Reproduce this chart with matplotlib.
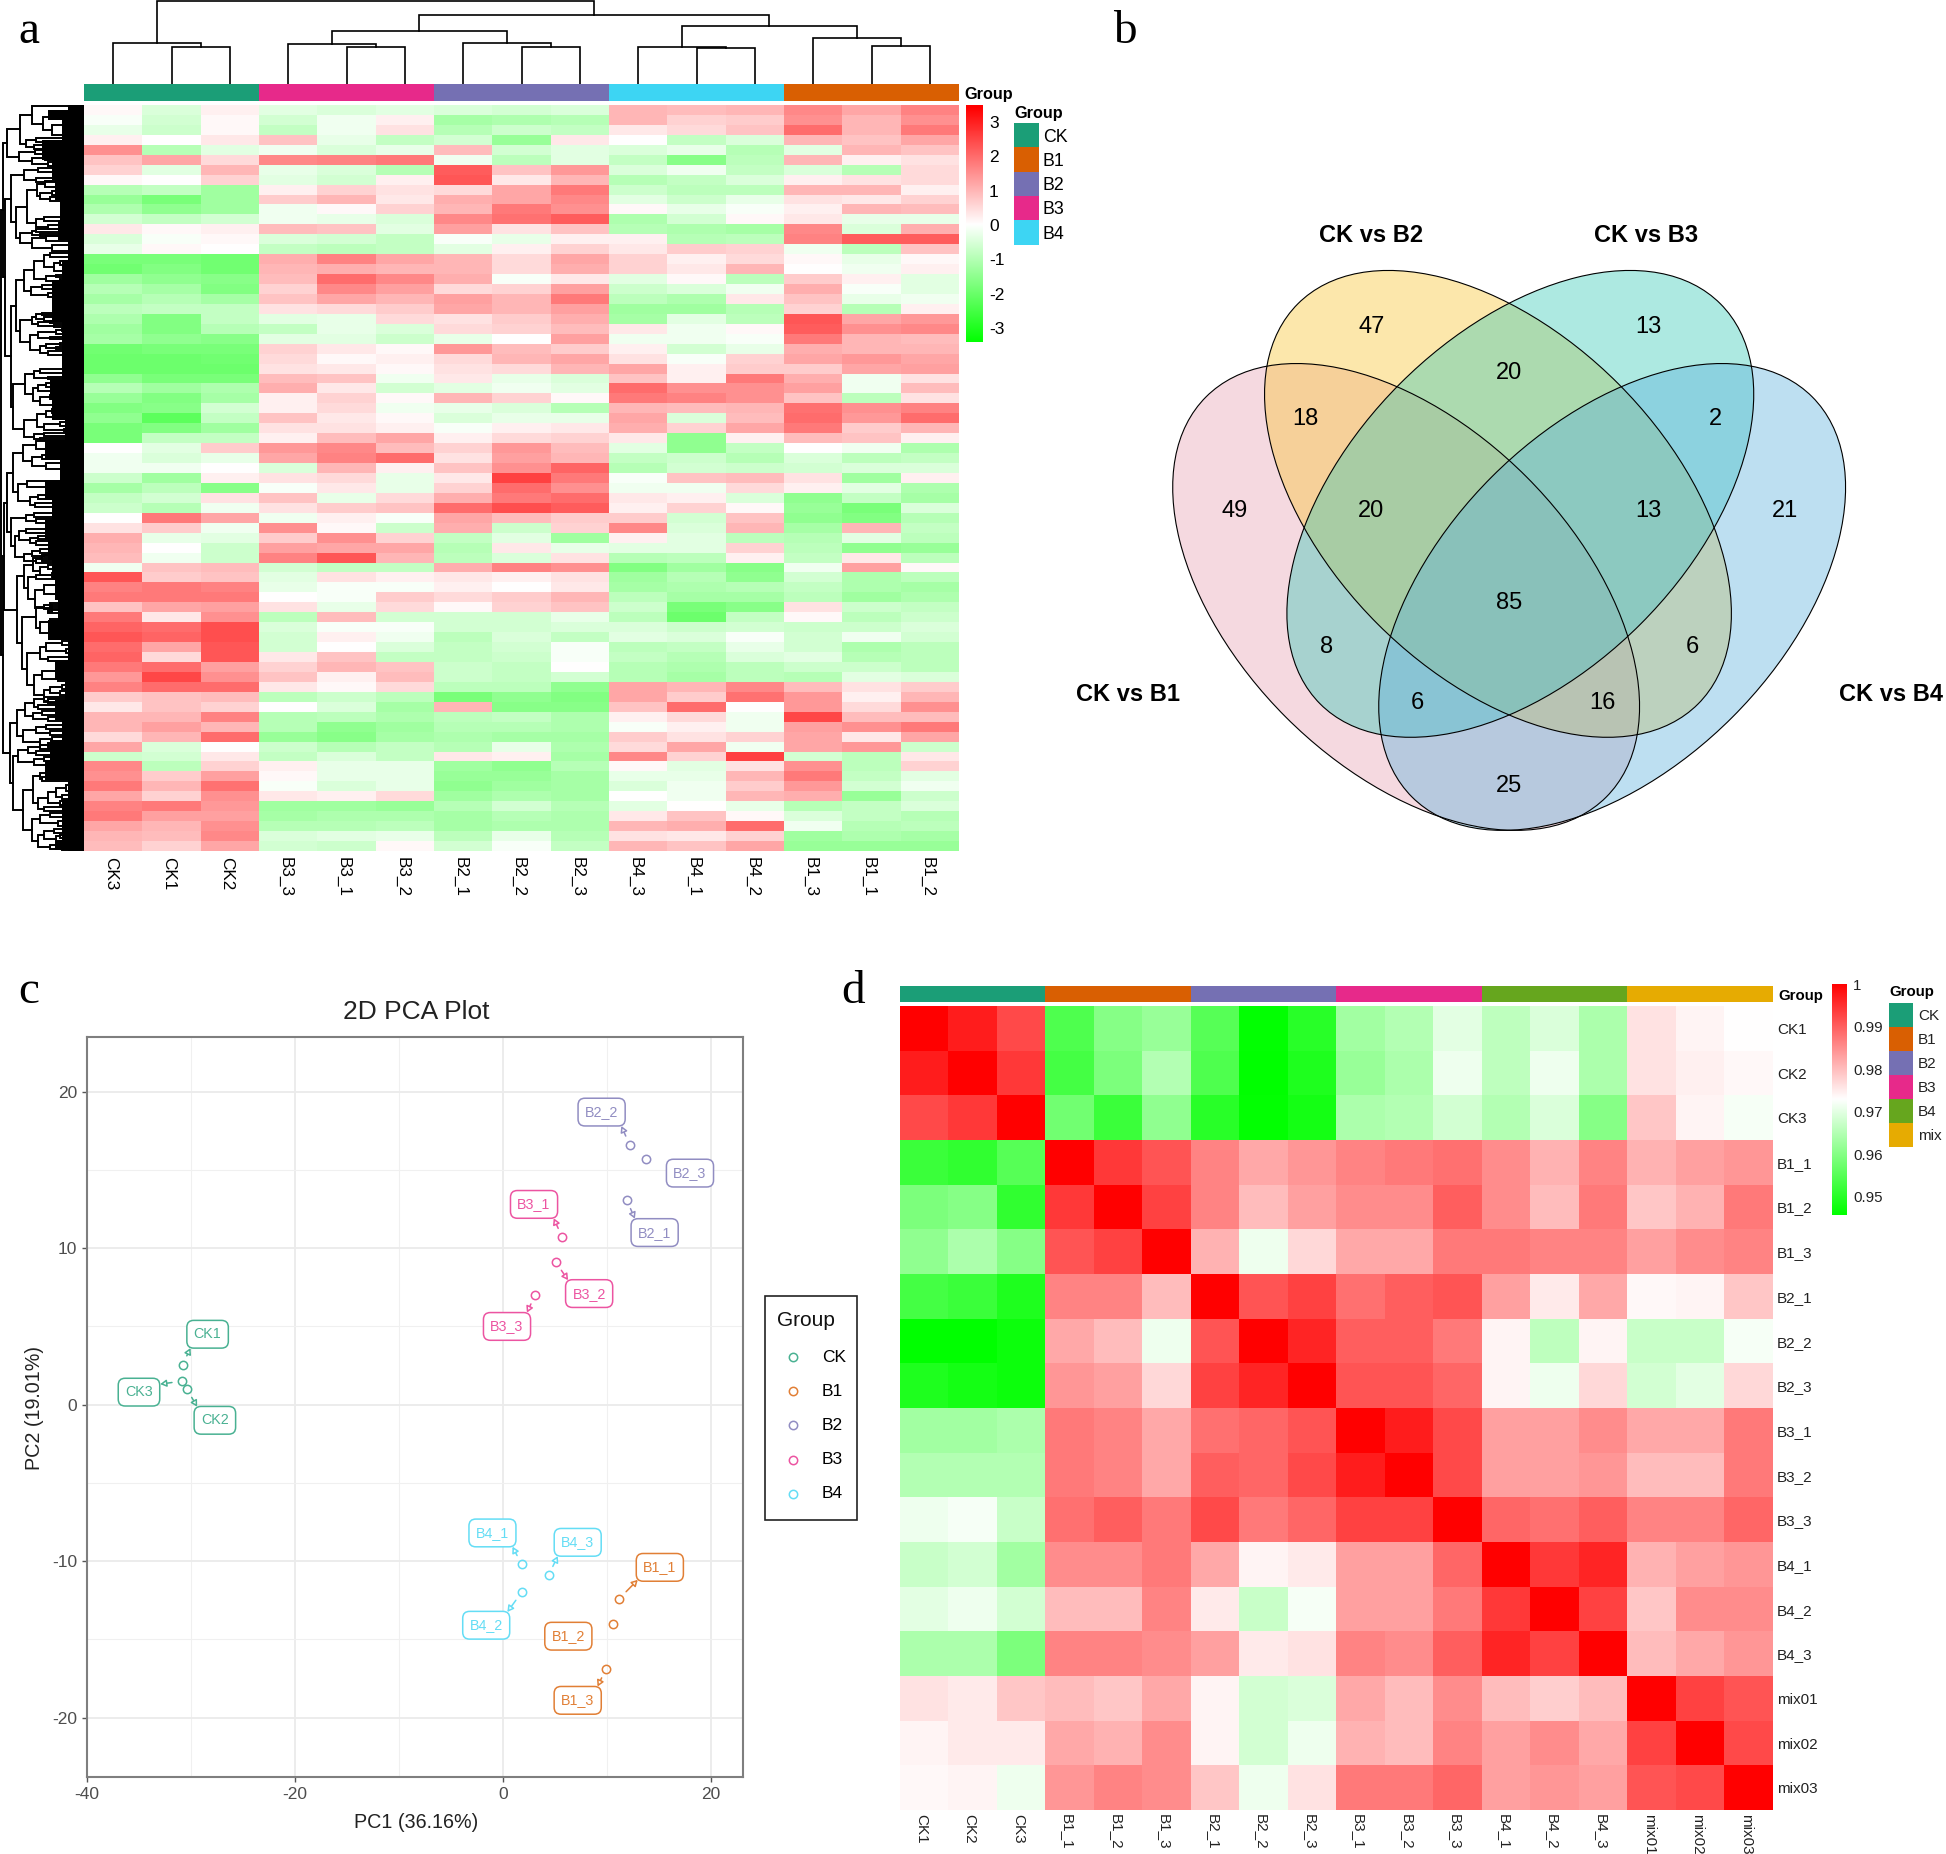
import numpy as np
import matplotlib
matplotlib.use("Agg")
import matplotlib.pyplot as plt
from matplotlib.colors import LinearSegmentedColormap, ListedColormap
from matplotlib.patches import Ellipse, Rectangle

plt.rcParams['font.family'] = ['Liberation Sans', 'DejaVu Sans']

W, H = 1946, 1854

# panel a
col_names = ['CK3', 'CK1', 'CK2', 'B3_3', 'B3_1', 'B3_2', 'B2_1', 'B2_2', 'B2_3',
             'B4_3', 'B4_1', 'B4_2', 'B1_3', 'B1_1', 'B1_2']
col_groups = [0, 0, 0, 3, 3, 3, 2, 2, 2, 4, 4, 4, 1, 1, 1]
group_names_a = ['CK', 'B1', 'B2', 'B3', 'B4']
colors_a = ['#1B9E77', '#D95F02', '#7570B3', '#E7298A', '#3DD5F3']
ticks_a = [3, 2, 1, 0, -1, -2, -3]

expr_top = [
    [.1, -.5, .2, -.4, -.5, -.4, -.5, -.6, -.5, 1.0, .9, 1.0, 1.6, 1.2, 1.7],
    [-.1, -.6, .1, -.6, -.2, .2, -1.2, -1.1, -1.0, 1.0, .6, .7, 1.5, 1.0, 1.5],
    [-.3, -.7, .1, -.8, -.2, .4, -1.0, -.7, -.8, .3, .5, .8, 2.0, 1.0, 1.8],
    [.2, 0, .3, .8, -.3, -.8, -.6, -1.4, .3, 0, -.8, -.5, 1.0, .8, 1.2],
    [1.5, -1.0, -.4, -.2, -.5, -.3, .9, -.6, -.4, -.5, -.3, -1.0, -.4, 1.0, .8],
    [.8, 1.2, .5, 1.6, 1.7, 1.8, -.2, -.9, -.4, -.8, -1.6, -.9, 1.0, .2, .4],
    [.6, -.4, 1.0, -.3, -.5, -1.0, 2.2, .8, 1.4, -.5, -.2, -.8, -.5, -1.0, .5],
    [.1, 0, .6, -.4, -.6, .2, 2.3, .3, 1.0, -1.0, -.8, -.5, .2, .4, .5],
    [-1.0, -.8, -1.3, .2, .6, .4, .5, 1.2, 1.8, -.7, -.9, -.9, 1.0, 1.0, .2],
    [-1.4, -1.8, -1.3, .7, 1.0, .3, 1.1, 1.2, 1.6, -.4, -.7, -.3, .4, .3, .6],
    [-1.1, -1.5, -1.3, -.2, .1, .6, 1.0, 1.8, 1.5, .1, -.3, -.1, .2, 1.0, .9],
    [-.6, -.8, -.6, -.2, -.3, -.5, 1.6, 1.9, 2.2, -1.1, -.6, .1, .3, -.3, -.3],
    [.3, .1, .2, .9, .8, -.4, 1.3, .4, .8, -1.0, -1.1, -1.2, 1.6, -.5, 1.1],
    [-.5, -.1, .1, -.5, -.6, -.8, -.1, -.3, .2, .2, -1.0, -.9, 1.7, 2.2, 2.2],
    [-.3, .1, 0, -.8, -.9, -.8, -.4, .2, .6, .3, .7, .6, -.2, -.9, .8],
]
expr_upper = [
    [-1.8, -1.8, -1.9, 1.1, 1.7, 1.2, 1.0, .5, 1.2, .6, .2, .5, .1, -.3, .1],
    [-1.9, -1.7, -1.9, 1.0, 1.1, 1.0, 1.0, .5, 1.1, .6, .3, 1.0, 0, -.2, .2],
    [-1.3, -1.5, -1.6, .9, 2.0, 1.6, 1.1, -.1, .3, -.4, .1, -.9, .7, .2, -.4],
    [-1.0, -1.2, -1.7, .6, 1.6, 1.3, .5, .6, 1.3, -.7, -.5, -.2, 1.1, -.1, -.4],
    [-1.2, -1.0, -1.2, .8, 1.2, 1.0, 1.3, 1.0, 1.8, -.9, -1.1, .3, .8, -.3, -.2],
    [-.9, -.8, -.8, .4, .5, .7, 1.2, 1.0, 1.3, -1.3, -1.3, -1.0, .6, -1.0, .2],
    [-1.1, -1.7, -.8, -.4, -.3, .5, .4, .7, 1.1, -1.2, -.4, -.9, 2.3, 1.2, 1.4],
    [-1.3, -1.7, -1.0, -.8, -.3, -.5, .5, .6, .9, .3, -.2, .1, 2.2, 1.5, 1.6],
    [-1.2, -1.5, -1.6, -.4, -.4, -.7, -.3, 0, 1.3, -.2, -.2, -.1, 1.8, 1.0, .9],
    [-1.9, -1.8, -1.8, .6, .3, .1, 1.4, .9, .7, .2, -.6, -.3, 1.1, 1.0, 1.0],
    [-2.0, -2.0, -1.9, .5, .1, .2, .5, 1.0, 1.2, .4, -.1, .6, 1.2, 1.4, 1.2],
    [-2.0, -2.0, -2.0, .4, .3, .1, .4, .5, 1.0, 1.2, .2, .7, .7, 1.2, 1.3],
    [-1.5, -1.8, -1.8, .9, .8, -.2, .3, -.3, -.5, .8, .2, 1.8, 1.1, -.2, .4],
    [-1.0, -1.3, -1.1, 1.1, .3, -.6, -.4, -.2, -.4, 2.0, 1.5, 1.5, 1.3, -.2, .9],
    [-1.4, -1.7, -1.2, .2, .6, .1, 1.0, .6, .1, 1.8, 1.7, 1.5, .8, -.9, .4],
]
expr_mid = [
    [-1.7, -1.6, -.6, .2, .5, -.2, -.3, -.5, -1.0, 1.0, .9, 1.0, 1.9, 1.5, 1.7],
    [-1.5, -2.2, -.8, .8, .3, .1, -.5, -.3, -.3, 1.2, -.5, .9, 2.0, 1.4, 2.0],
    [-1.8, -1.7, -1.3, .4, .4, .2, -.1, .2, .3, 1.1, .6, 1.2, 1.8, .7, 1.0],
    [-1.8, -.8, -.8, .2, .9, 1.2, .2, .5, .6, .3, -1.5, .2, .9, .8, .2],
    [0, -.4, .7, 1.4, 1.6, .9, .6, 1.4, .9, -.4, -1.5, -.8, 0, -.2, -1.1],
    [-.2, -.5, -.3, 1.2, 1.7, 2.0, .4, 1.3, 1.0, -.8, -.7, -1.0, -.5, -.9, -.8],
    [-.2, -.2, 0, -.5, 1.0, .2, .8, 1.5, 2.1, -1.0, -.6, -.7, -.6, -.5, -.5],
    [-.7, -1.3, .2, .4, .5, -.3, .3, 2.6, 1.8, -.1, .8, .9, .4, -1.3, .2],
    [-1.2, -.9, -1.6, -.1, .3, -.3, .6, 2.0, 1.5, -.2, -.2, .5, .2, -.4, -1.1],
    [-.8, -.6, .4, .8, -.3, .5, 1.1, 1.8, 2.0, .3, .2, -.5, -1.5, -.8, -1.2],
    [-.7, -1.0, -.2, .4, .7, .8, 2.0, 2.4, 2.2, .2, .6, .1, -1.4, -1.8, -.5],
    [0, 1.8, 1.2, -.2, .2, -.1, 1.2, .9, .7, .7, -.6, .8, -1.5, -1.7, -1.0],
    [.4, .7, -.2, 1.5, .1, -.7, 1.1, -.7, .6, 1.6, -.5, 1.0, -1.2, 1.0, -.8],
    [1.1, -.3, -.4, .7, 1.5, .6, -.8, -.4, -1.3, .2, -.4, -.9, -1.0, -.4, -.9],
    [1.0, 0, -.7, 1.3, 1.2, 1.2, -1.0, .3, -.3, -.4, -.4, .6, -.9, -1.5, -1.4],
    [.9, -.2, -.7, 1.7, 2.3, 1.0, -.9, -.5, .4, -1.0, -.9, .2, -.8, .3, -.9],
]
expr_lower = [
    [-.2, .8, .9, -.6, -.8, -.8, 1.1, 1.7, 1.5, -1.7, -1.3, -1.6, -.2, 1.3, .1],
    [2.3, .7, .8, -.4, .4, .2, .3, .2, .4, -1.3, -1.0, -1.5, -.6, -1.1, -.9],
    [1.7, 1.8, 1.7, -.3, -.1, -.1, .2, 0, .3, -1.2, -1.1, -1.0, -.8, -1.1, -1.2],
    [1.8, 1.8, 1.8, 0, -.1, .7, .5, .7, 1.0, -.9, -1.2, -1.2, -.9, -1.3, -1.1],
    [.8, 1.2, 1.3, .4, -.3, .5, .1, .6, .8, -.7, -1.8, -1.6, .4, -.7, -.8],
    [1.8, .3, 1.5, -.9, .9, -.6, -.6, -.6, -.3, -.9, -2.0, -.8, .1, -.9, -.7],
    [2.1, 2.0, 2.4, -.5, -.1, -.1, -.6, -.6, -.5, -.5, -.7, -.6, -.7, -.7, -.5],
    [2.3, 2.1, 2.4, -.6, .2, -.2, -.9, -.5, -.8, -.4, -.5, -.1, -.6, -.2, -.6],
    [2.0, 1.2, 2.3, -.6, 0, -.5, -.8, -.6, -.1, -.9, -.8, -.3, -.6, -1.1, -.9],
    [2.1, .5, 2.3, .3, .8, -.8, -.8, -.7, -.1, -.8, -1.0, -.5, -.4, -1.0, -.9],
    [1.8, 2.0, 1.3, .6, 1.0, .8, -.7, -.8, 0, -1.0, -1.1, -.9, -.7, -.7, -.9],
    [1.4, 2.5, 1.5, .8, .2, .9, -.7, -.8, -.6, -1.0, -1.2, -.9, -1.0, -.4, -.5],
    [1.7, 2.0, 2.0, .3, .1, .5, -.9, -.9, -1.5, 1.2, 1.0, 1.6, .9, .4, .7],
    [.7, .8, .9, -.9, -.7, -.9, -1.8, -1.5, -1.7, 1.2, .7, 1.9, 1.4, .2, 1.0],
    [.3, .8, .6, 0, -.5, -1.2, 1.0, -1.6, -1.6, .8, 2.0, 0, 1.4, .5, 1.5],
]
expr_bottom = [
    [1.0, 1.0, 1.7, -1.0, -.9, -1.1, -.9, -.8, -1.1, .2, .5, -.2, 2.5, .9, .9],
    [1.0, 1.3, 1.0, -1.0, -1.5, -1.3, -1.0, -1.0, -1.1, -.1, .2, -.2, 1.3, 1.5, 1.8],
    [.5, 1.0, 2.0, -1.4, -1.6, -1.2, -1.1, -1.2, -1.2, .7, .4, .6, 1.2, .3, 1.2],
    [1.2, -.5, 0, -.7, -1.0, -.8, -1.0, -.3, -1.1, .5, 1.2, -.2, 1.2, 1.4, -.7],
    [-.7, -.6, .3, -.8, -.5, -.8, .3, .2, -1.2, 1.6, .6, 2.6, -.6, -.9, .3],
    [1.6, -.9, .6, .2, -.3, -.3, -1.3, -1.5, -1.0, .1, -.4, .4, 1.5, -.9, .6],
    [1.5, .7, 1.3, .1, -.3, -.3, -1.4, -1.4, -1.2, -.3, -.3, 1.0, 1.8, -.8, -.4],
    [1.8, 1.0, 1.9, -.1, -.5, -.3, -1.5, -1.3, -1.2, -.5, -.2, .7, 1.4, -.6, -.2],
    [1.2, .6, 1.5, .3, .2, .5, -1.3, -1.1, -1.2, 0, -.2, 1.0, 1.1, -1.4, -.7],
    [1.7, 1.8, 1.4, -1.3, -1.3, -1.4, -1.0, -.6, -1.0, -.4, 0, -.3, -1.0, -.8, -.5],
    [1.8, 1.3, 1.3, -1.2, -1.1, -1.1, -1.2, -1.0, -1.1, .3, .8, .1, -.5, -.8, -1.0],
    [1.2, 1.0, 1.5, -1.0, -1.0, -.9, -1.2, -1.1, -1.1, 1.0, 1.1, 2.0, -.2, -1.0, -.9],
    [1.0, .9, 1.6, -.5, -.4, -.3, -.9, -.3, -1.0, .4, .3, .6, -1.3, -1.1, -1.2],
    [.9, .6, 1.2, -.6, -.7, .1, -.6, -.1, -.8, 1.0, .8, 1.2, -1.4, -1.4, -1.4],
]

# column tree: (height, left, right), leaves are column numbers
col_tree = (83, (41, 0, (37, 1, 2)),
            (69, (53, (40, 3, (37, 4, 5)), (41, 6, (37, 7, 8))),
             (58, (37, 9, (36, 10, 11)), (46, 12, (38, 13, 14)))))

# row tree: (depth, upper, lower), leaves are row offsets in the heatmap
row_u = (7, (20, (32, 1, (43, 12, (52, 20, 30))), (26, (36, 33, 37), (34, 40, 44))),
         (19, (35, 45, 49), (32, (45, 51, 55), (48, 57, 61))))
row_v = (16, (27, (37, (45, 76, 82), (40, (52, 86, 90), (50, 92, 96))),
              (36, (44, 112, 116), (48, 120, 124))),
         (20, (32, (36, 124, 127), (40, 129, 131)), (32, (46, 131, 136), (52, 140, 146))))
row_v = (11, (24, (38, 63, 67), (36, 73, 77)), row_v)
row_qa = (16, (24, (34, (44, (50, 148, 152), (54, (60, 156, 160), (64, 164, 168))),
                    (46, (56, 170, 172), (60, 174, 178))),
               (31, (42, 180, 184), (48, 188, 192))),
          (20, (32, (36, (42, 208, 210), (44, 212, 216)), (38, (50, 216, 218), (54, 220, 222))),
           (30, (38, (56, (62, 224, 226), (68, 228, 230)), (50, 232, 234)),
            (40, (46, (60, 238, 240), (56, 242, 244)), (48, 246, 250)))))
row_qb = (13, (25, (34, (40, 264, 268), (48, 272, 274)),
               (33, (38, (46, 278, 282), (52, 284, 288)), (40, (50, 290, 294), (54, 298, 302)))),
          (24, (37, (46, (52, 304, 308), (58, 310, 314)),
                (44, (60, (66, 316, 318), (70, 320, 322)), (64, 324, 326))),
           (34, (44, 328, 331), (40, 333, 335))))
row_x = (7, (13, (23, (36, 336, 344), (32, (42, 350, 354), (46, 358, 364))),
             (18, (27, 376, 382), (30, (38, 390, 394), (35, 398, 402)))),
         (11, (26, (34, 408, 412), (36, 414, 418)),
          (15, (19, (26, 424, 428), (30, (38, 431, 434), (36, 436, 440))),
           (24, (32, (40, 444, 448), (44, 450, 452)), (36, 454, 458)))))
row_z = (17, (24, (33, (42, 450, 456), (40, (48, 460, 464), (52, 468, 472))),
              (28, (36, 470, 474), (35, (44, (58, 478, 482), (56, 486, 492)),
                                    (52, (50, 498, 502), (48, 505, 508))))),
         (22, (36, (44, 500, 504), (40, (50, (60, 512, 516), (70, 518, 524)), (52, 526, 530))),
          (27, (40, (46, (62, 536, 540), (66, 544, 548)), (48, 552, 556)),
           (34, (42, (56, 564, 568), (58, 572, 576)),
            (44, (50, (62, 580, 584), (60, 586, 590)), (48, 594, 598))))))
row_y1 = (17, (25, (34, (44, 592, 597), (38, 600, 604)), (33, (42, 606, 610), (48, 612, 616))),
          (23, (36, (46, 620, 624), (50, 626, 630)), (40, (52, 632, 636), (48, 638, 642))))
row_y2 = (13, (18, (28, (40, 640, 644), (36, 646, 650)), (34, (44, 652, 656), (48, 658, 662))),
          (23, (33, (40, (46, 666, 670), (42, 672, 676)),
                (38, (48, (56, (66, (76, 678, 682), (74, 684, 688)), (62, 690, 694)), (60, 696, 700)),
                 (44, 702, 706))),
           (32, (40, (50, 708, 712), (58, (64, 714, 718), (66, 720, 722))),
            (38, (44, (54, 724, 728), (56, (60, 730, 733), (64, 735, 738))),
             (50, (58, 739, 742), (62, 743, 745))))))
row_tree = (1, (3, row_u, (4.5, row_v, (11, row_qa, row_qb))),
            (2.5, (3.5, row_x, row_z), (10, row_y1, row_y2)))

# where the solid black leaves begin, every 20 rows
black_edge = [48, 62, 42, 52, 55, 60, 58, 70, 62, 52, 52, 62, 62, 62, 50, 52, 65, 45, 60,
              45, 52, 45, 48, 52, 55, 58, 48, 72, 55, 65, 55, 62, 50, 45, 70, 62, 62, 55]

# panel b
venn_names = ['CK vs B2', 'CK vs B3', 'CK vs B1', 'CK vs B4']
venn_counts = [49, 47, 13, 21, 18, 20, 2, 20, 13, 8, 6, 85, 6, 16, 25]

# panel c
pca_groups = ['CK', 'B1', 'B2', 'B3', 'B4']
pca_colors = ['#1B9E77', '#D95F02', '#7570B3', '#E7298A', '#3DD5F3']
pca_names = ['CK1', 'CK2', 'CK3', 'B1_1', 'B1_2', 'B1_3', 'B2_1', 'B2_2', 'B2_3',
             'B3_1', 'B3_2', 'B3_3', 'B4_1', 'B4_2', 'B4_3']
pca_x = [-30.8, -30.4, -30.9, 11.2, 10.6, 9.9, 11.9, 12.2, 13.8, 5.7, 5.1, 3.1, 1.8, 1.8, 4.4]
pca_y = [2.56, 1.0, 1.5, -12.4, -14.0, -16.9, 13.1, 16.6, 15.7, 10.7, 9.1, 7.0, -10.2, -12.0, -10.9]
pca_lab_x = [-28.4, -27.7, -35.0, 15.1, 6.3, 7.2, 14.6, 9.5, 18.0, 3.0, 8.3, 0.4, -1.0, -1.6, 7.2]
pca_lab_y = [4.5, -1.0, 0.8, -10.4, -14.8, -18.9, 11.0, 18.7, 14.8, 12.8, 7.1, 5.0, -8.2, -14.1, -8.8]
pca_arrow = [1, 1, 1, 1, 0, 1, 1, 1, 0, 1, 1, 1, 1, 1, 1]

# panel d
corr_names = ['CK1', 'CK2', 'CK3', 'B1_1', 'B1_2', 'B1_3', 'B2_1', 'B2_2', 'B2_3',
              'B3_1', 'B3_2', 'B3_3', 'B4_1', 'B4_2', 'B4_3', 'mix01', 'mix02', 'mix03']
corr_groups = [0, 0, 0, 1, 1, 1, 2, 2, 2, 3, 3, 3, 4, 4, 4, 5, 5, 5]
group_names_d = ['CK', 'B1', 'B2', 'B3', 'B4', 'mix']
colors_d = ['#1B9E77', '#D95F02', '#7570B3', '#E7298A', '#66A61E', '#E6AB02']
corr_ticks = [1, 0.99, 0.98, 0.97, 0.96, 0.95]
corr = [
    [1, .997, .992, .954, .960, .962, .955, .946, .950, .963, .965, .970, .966, .969, .964, .976, .974, .973],
    [.997, 1, .994, .953, .959, .965, .954, .9458, .949, .962, .964, .971, .966, .971, .964, .976, .9745, .9735],
    [.992, .994, 1, .958, .952, .961, .950, .946, .948, .964, .965, .968, .965, .969, .960, .979, .974, .972],
    [.952, .951, .955, 1, .994, .991, .986, .982, .984, .986, .987, .988, .985, .981, .986, .981, .983, .984],
    [.959, .960, .951, .994, 1, .993, .986, .980, .983, .985, .985, .990, .985, .980, .987, .979, .981, .987],
    [.961, .964, .960, .991, .993, 1, .981, .971, .977, .982, .982, .987, .987, .986, .986, .983, .985, .986],
    [.953, .952, .949, .986, .986, .980, 1, .991, .993, .988, .990, .991, .983, .975, .982, .9735, .974, .979],
    [.9458, .9458, .947, .982, .980, .971, .991, 1, .996, .990, .990, .987, .974, .966, .974, .967, .967, .972],
    [.949, .948, .947, .984, .983, .977, .993, .996, 1, .991, .991, .989, .974, .971, .977, .968, .970, .977],
    [.963, .963, .964, .987, .986, .982, .988, .989, .991, 1, .997, .992, .983, .983, .985, .982, .982, .987],
    [.965, .965, .965, .987, .986, .982, .990, .989, .992, .997, 1, .992, .983, .983, .984, .980, .980, .987],
    [.971, .972, .967, .988, .990, .987, .992, .987, .989, .993, .993, 1, .989, .988, .990, .986, .986, .989],
    [.967, .968, .963, .985, .985, .987, .982, .974, .975, .983, .983, .989, 1, .994, .996, .981, .983, .984],
    [.970, .971, .968, .980, .980, .986, .975, .967, .972, .983, .983, .987, .994, 1, .993, .979, .985, .985],
    [.964, .964, .959, .986, .986, .985, .983, .975, .976, .986, .985, .990, .996, .993, 1, .980, .982, .984],
    [.976, .975, .979, .980, .979, .982, .974, .968, .969, .982, .980, .985, .980, .978, .980, 1, .993, .991],
    [.974, .975, .975, .982, .981, .985, .974, .968, .971, .981, .980, .986, .983, .985, .982, .993, 1, .992],
    [.9735, .974, .971, .984, .986, .985, .979, .971, .976, .987, .987, .989, .983, .984, .983, .991, .992, 1],
]

gwr = LinearSegmentedColormap.from_list('gwr', ['#00FF00', '#FFFFFF', '#FF0000'], N=256)

fig = plt.figure(figsize=(W / 100, H / 100), dpi=100, facecolor='white')


def px_axes(x0, y0, x1, y1):
    return fig.add_axes([x0 / W, 1 - y1 / H, (x1 - x0) / W, (y1 - y0) / H])


def bare(ax):
    ax.set_xticks([])
    ax.set_yticks([])
    for s in ax.spines.values():
        s.set_visible(False)


def draw_tree(ax, node, vertical, lw):
    # returns (position, height) of the node
    if not isinstance(node, tuple):
        return node, None
    h, a, b = node
    pa, ha = draw_tree(ax, a, vertical, lw)
    pb, hb = draw_tree(ax, b, vertical, lw)
    if vertical:
        ax.plot([pa, pa, pb, pb], [0 if ha is None else ha, h, h, 0 if hb is None else hb],
                color='black', lw=lw, solid_joinstyle='miter')
    else:
        ax.plot([84 if ha is None else ha, h, h, 84 if hb is None else hb], [pa, pa, pb, pb],
                color='black', lw=lw, solid_joinstyle='miter')
    return (pa + pb) / 2, h


# overlay with pixel coordinates for the loose text and legends
over = px_axes(0, 0, W, H)
over.set_xlim(0, W)
over.set_ylim(H, 0)
over.axis('off')
over.set_zorder(5)
over.patch.set_alpha(0)

for lab, x, y in [('a', 18, 43), ('b', 1113, 43), ('c', 18, 1003), ('d', 841, 1003)]:
    over.text(x, y, lab, family='Liberation Serif', fontsize=34, va='baseline', ha='left')

# ---- a: heatmap
expr = np.array(expr_top + expr_upper + expr_mid + expr_lower + expr_bottom)
ax = px_axes(84, 105, 959, 851)
ax.imshow(expr, cmap=gwr, vmin=-3.47, vmax=3.47, aspect='auto', interpolation='nearest')
bare(ax)
for i, name in enumerate(col_names):
    over.text(81 + 58.33 * (i + .5), 857, name, rotation=-90, ha='center', va='top', fontsize=12.3)

ax = px_axes(84, 84, 959, 101)
ax.imshow([col_groups], cmap=ListedColormap(colors_a), vmin=0, vmax=4, aspect='auto',
          interpolation='nearest')
bare(ax)

ax = px_axes(84, 0, 959, 84)
draw_tree(ax, col_tree, True, 1.2)
ax.set_xlim(-.5, 14.5)
ax.set_ylim(0, 84)
bare(ax)
ax.patch.set_alpha(0)

ax = px_axes(0, 105, 84, 851)
draw_tree(ax, row_tree, False, 1.4)
ax.fill_betweenx(np.arange(len(black_edge)) * 20 + 5, black_edge, 84, color='black', lw=0, step='mid')
ax.axvspan(68, 84, color='black', lw=0)
ax.set_xlim(0, 84)
ax.set_ylim(746, 0)
bare(ax)
ax.patch.set_alpha(0)

ax = px_axes(966, 105, 982, 342)
ax.imshow(np.linspace(3.5, -3.44, 256)[:, None], cmap=gwr, vmin=-3.47, vmax=3.47, aspect='auto',
          extent=[0, 1, -3.44, 3.5])
bare(ax)
for t in ticks_a:
    over.text(989, 226.5 - 34.4 * t, str(t), va='center', ha='left', fontsize=12.5)
over.text(964, 94, 'Group', fontweight='bold', fontsize=11.7, va='center')
over.text(1014, 113, 'Group', fontweight='bold', fontsize=11.7, va='center')
for i, name in enumerate(group_names_a):
    over.add_patch(Rectangle((1014, 123 + 24.3 * i), 25, 24.3, fc=colors_a[i], ec='none'))
    over.text(1043, 137 + 24.3 * i, name, va='center', fontsize=12.8)

# ---- b: venn
S = 1946 / 1568
venn_shapes = [(1207, 406, 45, '#F8C32F'), (1225, 406, -45, '#34C8B6')]
venn_shapes = [(1133, 481, 45, '#E6A0B2')] + venn_shapes + [(1299, 481, -45, '#5CB1DC')]
venn_a, venn_b = 228, 137
for cx, cy, ang, c in venn_shapes:
    over.add_patch(Ellipse((cx * S, cy * S), 2 * venn_a * S, 2 * venn_b * S, angle=ang, fc=c, ec='none', alpha=.4))
for cx, cy, ang, c in venn_shapes:
    over.add_patch(Ellipse((cx * S, cy * S), 2 * venn_a * S, 2 * venn_b * S, angle=ang, fc='none', ec='black', lw=.8))
venn_xy = [(995, 410), (1105, 262), (1328, 262), (1438, 410), (1052, 336), (1216, 299), (1382, 336),
           (1105, 410), (1328, 410), (1069, 520), (1364, 520), (1216, 484), (1142, 565), (1291, 565),
           (1216, 632)]
for n, (x, y) in zip(venn_counts, venn_xy):
    over.text(x * S, y * S + 2, str(n), ha='center', va='center', fontsize=17)
for name, (x, y) in zip(venn_names, [(1105, 188), (1326, 188), (909, 558), (1524, 558)]):
    over.text(x * S, y * S + 2, name, ha='center', va='center', fontsize=17, fontweight='bold')

# ---- c: PCA
ax = px_axes(87, 1037, 743, 1777)
ax.set_xlim(-40, 23.1)
ax.set_ylim(-23.8, 23.5)
ax.set_xticks([-40, -20, 0, 20])
ax.set_yticks([-20, -10, 0, 10, 20])
ax.set_xticks([-30, -10, 10], minor=True)
ax.set_yticks([-15, -5, 5, 15], minor=True)
ax.set_xticklabels(['-40', '-20', '0', '20'])
ax.set_yticklabels(['-20', '-10', '0', '10', '20'])
ax.grid(which='major', color='#EBEBEB', lw=1.3)
ax.grid(which='minor', color='#F0F0F0', lw=.8)
ax.set_axisbelow(True)
ax.tick_params(which='major', length=3.5, width=1, color='#555555', labelcolor='#4D4D4D', labelsize=12.5)
ax.tick_params(which='minor', length=0)
for s in ax.spines.values():
    s.set_color('#7F7F7F')
    s.set_linewidth(1.5)
for i, name in enumerate(pca_names):
    g = i // 3
    c = np.array(matplotlib.colors.to_rgb(pca_colors[g])) * .8 + .2
    ax.plot(pca_x[i], pca_y[i], 'o', mfc='none', mec=c, ms=6, mew=1.1)
    props = None
    if pca_arrow[i]:
        # the segment leaves the box at the point of it nearest to the sample
        rx = np.clip((pca_x[i] - pca_lab_x[i] + 1.6) / 3.2, 0, 1)
        ry = np.clip((pca_y[i] - pca_lab_y[i] + .45) / .9, 0, 1)
        props = dict(arrowstyle='<|-,head_length=.35,head_width=.2', fc='white', ec=c, lw=1.1,
                     shrinkA=0, shrinkB=7, relpos=(rx, ry))
    ax.annotate(name, (pca_x[i], pca_y[i]), xytext=(pca_lab_x[i], pca_lab_y[i]), ha='center', va='center',
                fontsize=10.3, color=c, bbox=dict(boxstyle='round,pad=0.48', fc='white', ec=c, lw=1.1),
                arrowprops=props)
over.text(416, 1012, '2D PCA Plot', ha='center', va='center', fontsize=19, color='#222222')
over.text(416, 1823, 'PC1 (36.16%)', ha='center', va='center', fontsize=14.2, color='#222222')
over.text(35, 1408, 'PC2 (19.01%)', ha='center', va='center', rotation=90, fontsize=14.2, color='#222222')
over.add_patch(Rectangle((765, 1296), 92, 224, fc='white', ec='#222222', lw=1.2))
over.text(777, 1320, 'Group', va='center', fontsize=15, color='#111111')
for i, name in enumerate(pca_groups):
    y = 1357 + 34.2 * i
    c = np.array(matplotlib.colors.to_rgb(pca_colors[i])) * .8 + .2
    over.plot(793, y, 'o', mfc='none', mec=c, ms=6, mew=1.1)
    over.text(822, y, name, va='center', fontsize=12.5)

# ---- d: correlation
ax = px_axes(900, 1006, 1773, 1810)
ax.imshow(corr, cmap=gwr, vmin=.9457, vmax=1, aspect='auto', interpolation='nearest')
bare(ax)
ax = px_axes(900, 986, 1773, 1002)
ax.imshow([corr_groups], cmap=ListedColormap(colors_d), vmin=0, vmax=5, aspect='auto', interpolation='nearest')
bare(ax)
for i, name in enumerate(corr_names):
    over.text(897 + 48.5 * (i + .5), 1814, name, rotation=-90, ha='center', va='top', fontsize=11,
              color='#222222')
    over.text(1777, 1007.5 + 44.67 * (i + .5), name, ha='left', va='center', fontsize=11, color='#222222')
over.text(1778, 996, 'Group', fontweight='bold', fontsize=10.8, va='center')
ax = px_axes(1832, 984, 1847, 1215)
ax.imshow(np.linspace(1, .9457, 256)[:, None], cmap=gwr, vmin=.9457, vmax=1, aspect='auto')
bare(ax)
for t in corr_ticks:
    over.text(1853, 986 + (1 - t) * 4240, str(t), va='center', fontsize=10.8, color='#222222')
over.text(1889, 992, 'Group', fontweight='bold', fontsize=10.8, va='center')
for i, name in enumerate(group_names_d):
    over.add_patch(Rectangle((1889, 1003 + 24 * i), 24, 24, fc=colors_d[i], ec='none'))
    over.text(1918, 1016 + 24 * i, name, va='center', fontsize=11, color='#222222')

fig.savefig('out.png', dpi=100)
